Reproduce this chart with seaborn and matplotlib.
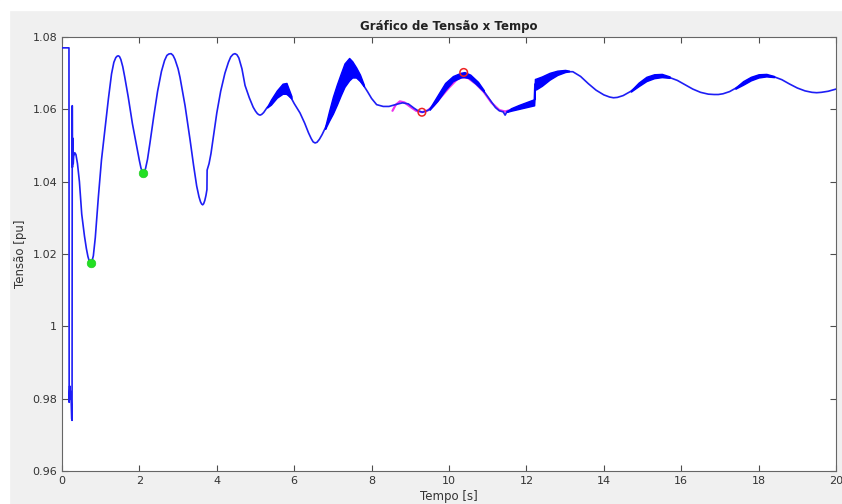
import numpy as np
import pandas as pd
import matplotlib
matplotlib.use("Agg")
import matplotlib.pyplot as plt
from matplotlib.patches import Rectangle
import seaborn as sns

# ---- data ----
t_main = [0.0, 0.18, 0.185, 0.20, 0.215, 0.23, 0.25, 0.26, 0.265, 0.27, 0.28, 0.29, 0.30, 0.33, 0.36,
          0.40, 0.45, 0.51, 0.58, 0.63, 0.67, 0.705, 0.74, 0.775, 0.81, 0.86, 0.90, 0.94, 1.02, 1.11,
          1.20, 1.28, 1.34, 1.39, 1.425, 1.455, 1.485, 1.52, 1.57, 1.62, 1.71, 1.82, 1.93, 2.00, 2.04,
          2.07, 2.10, 2.13, 2.16, 2.21, 2.27, 2.37, 2.47, 2.57, 2.65, 2.71, 2.76, 2.82, 2.87, 2.92,
          3.00, 3.05, 3.18, 3.31, 3.40, 3.48, 3.54, 3.58, 3.61, 3.635, 3.66, 3.69, 3.72, 3.745, 3.75,
          3.80, 3.85, 3.92, 4.00, 4.10, 4.21, 4.30, 4.36, 4.42, 4.47, 4.52, 4.57, 4.65, 4.73, 4.84,
          4.94, 5.00, 5.05, 5.09, 5.12, 5.16, 5.21, 5.30, 5.40, 5.55, 5.70, 5.85, 5.93, 6.00, 6.15,
          6.27, 6.37, 6.44, 6.49, 6.54, 6.59, 6.65, 6.72, 6.80, 6.90, 7.00, 7.10, 7.20, 7.30, 7.40,
          7.50, 7.60, 7.70, 7.80, 7.90, 8.00, 8.13, 8.30, 8.45, 8.65, 8.80, 8.95, 9.10, 9.20, 9.32,
          9.45, 9.50, 9.70, 9.90, 10.10, 10.30, 10.50, 10.70, 10.90, 11.00, 11.10, 11.20, 11.30, 11.40,
          11.45, 11.50, 11.60, 11.80, 12.00, 12.20, 12.22, 12.25, 12.40, 12.60, 12.80, 13.00, 13.20,
          13.40, 13.60, 13.80, 14.00, 14.15, 14.25, 14.35, 14.50, 14.65, 14.70, 14.90, 15.10, 15.30,
          15.50, 15.70, 15.90, 16.10, 16.30, 16.50, 16.70, 16.85, 16.96, 17.08, 17.25, 17.40, 17.60,
          17.80, 18.00, 18.20, 18.40, 18.60, 18.80, 19.00, 19.20, 19.38, 19.50, 19.62, 19.80, 20.00]
v_main = [1.077, 1.077, 0.979, 0.9835, 0.980, 0.982, 0.9745, 0.974, 1.061, 1.044, 1.052, 1.045, 1.047, 1.048, 1.0475,
          1.045, 1.040, 1.031, 1.025, 1.0215, 1.0193, 1.0180, 1.0175, 1.0180, 1.0195, 1.0245, 1.0300, 1.0358, 1.0460, 1.0545,
          1.0630, 1.0698, 1.0730, 1.0743, 1.0747, 1.0748, 1.0746, 1.0738, 1.0718, 1.0690, 1.0635, 1.0560, 1.0497, 1.0458, 1.0438,
          1.0428, 1.0424, 1.0427, 1.0437, 1.0462, 1.0505, 1.0580, 1.0650, 1.0705, 1.0735, 1.0749, 1.0753, 1.0754, 1.0749, 1.0738,
          1.0712, 1.0688, 1.0610, 1.0515, 1.0445, 1.0388, 1.0358, 1.0344, 1.0338, 1.0336, 1.0339, 1.0348, 1.0362, 1.0378, 1.0432,
          1.0450, 1.0478, 1.0530, 1.0590, 1.0650, 1.0700, 1.0730, 1.0745, 1.0752, 1.0754, 1.0751, 1.0742, 1.0712, 1.0666, 1.0632,
          1.0606, 1.0595, 1.0588, 1.0585, 1.0584, 1.0586, 1.0591, 1.0605, 1.0615, 1.0635, 1.0645, 1.0640, 1.0630, 1.0616, 1.0590,
          1.0562, 1.0535, 1.0519, 1.0510, 1.0507, 1.0509, 1.0517, 1.0530, 1.0548, 1.0570, 1.0590, 1.0615, 1.0640, 1.0665, 1.0680,
          1.0690, 1.0690, 1.0680, 1.0665, 1.0648, 1.0630, 1.0613, 1.0608, 1.0608, 1.0614, 1.0618, 1.0615, 1.0603, 1.0596, 1.0592,
          1.0597, 1.0600, 1.0625, 1.0655, 1.0680, 1.0690, 1.0688, 1.0670, 1.0650, 1.0635, 1.0620, 1.0605, 1.0596, 1.0593,
          1.0584, 1.0594, 1.0597, 1.0603, 1.0608, 1.0613, 1.0670, 1.0660, 1.0667, 1.0684, 1.0697, 1.0704, 1.0704,
          1.0691, 1.0671, 1.0653, 1.0640, 1.0634, 1.0632, 1.0633, 1.0638, 1.0647, 1.0650, 1.0666, 1.0680, 1.0688,
          1.0690, 1.0688, 1.0680, 1.0668, 1.0656, 1.0647, 1.0642, 1.0641, 1.0641, 1.0643, 1.0649, 1.0658, 1.0670,
          1.0682, 1.0689, 1.0692, 1.0690, 1.0682, 1.0670, 1.0659, 1.0651, 1.0647, 1.0646, 1.0647, 1.0650, 1.0656]

# ripple envelopes (dense high-frequency oscillation bands)
rip1_t = [5.30, 5.40, 5.55, 5.70, 5.80, 5.93]
rip1_lo = [1.0605, 1.0613, 1.0632, 1.0643, 1.0643, 1.0630]
rip1_hi = [1.0607, 1.0627, 1.0652, 1.0671, 1.0673, 1.0636]

rip2_t = [6.80, 6.90, 7.00, 7.10, 7.20, 7.30, 7.42, 7.50, 7.60, 7.70, 7.80]
rip2_lo = [1.0546, 1.0568, 1.0588, 1.0612, 1.0638, 1.0662, 1.0680, 1.0688, 1.0688, 1.0678, 1.0664]
rip2_hi = [1.0552, 1.0595, 1.0635, 1.0668, 1.0698, 1.0727, 1.0742, 1.0733, 1.0716, 1.0696, 1.0668]

rip3_t = [9.50, 9.70, 9.90, 10.10, 10.30, 10.40, 10.55, 10.75, 10.90]
rip3_lo = [1.0599, 1.0623, 1.0653, 1.0678, 1.0688, 1.0689, 1.0686, 1.0666, 1.0649]
rip3_hi = [1.0603, 1.0638, 1.0673, 1.0692, 1.0701, 1.0703, 1.0696, 1.0676, 1.0653]

rip4_t = [11.50, 11.60, 11.80, 12.00, 12.20, 12.22, 12.25, 12.40, 12.60, 12.80, 13.00, 13.10]
rip4_lo = [1.0593, 1.0596, 1.0601, 1.0606, 1.0611, 1.0655, 1.0655, 1.0665, 1.0682, 1.0695, 1.0703, 1.0705]
rip4_hi = [1.0595, 1.0603, 1.0612, 1.0620, 1.0628, 1.0684, 1.0685, 1.0691, 1.0701, 1.0707, 1.0709, 1.0707]

rip5_t = [14.70, 14.90, 15.10, 15.30, 15.50, 15.70]
rip5_lo = [1.0649, 1.0664, 1.0678, 1.0686, 1.0689, 1.0687]
rip5_hi = [1.0652, 1.0674, 1.0690, 1.0697, 1.0698, 1.0691]

rip6_t = [17.40, 17.60, 17.80, 18.00, 18.20, 18.40]
rip6_lo = [1.0657, 1.0668, 1.0680, 1.0688, 1.0691, 1.0689]
rip6_hi = [1.0660, 1.0678, 1.0690, 1.0697, 1.0698, 1.0692]

# fitted magenta curve
t_fit = [8.54, 8.62, 8.73, 8.85, 9.00, 9.15, 9.30, 9.45, 9.60, 9.80, 10.00, 10.20, 10.35,
         10.50, 10.70, 10.90, 11.10, 11.30, 11.45, 11.55]
v_fit = [1.0596, 1.0612, 1.0622, 1.0619, 1.0607, 1.0596, 1.0592, 1.0597, 1.0610, 1.0635, 1.0660,
         1.0682, 1.0690, 1.0686, 1.0670, 1.0648, 1.0618, 1.0598, 1.0594, 1.0597]

green_t = [0.74, 2.10]
green_v = [1.0175, 1.0425]
red_t = [9.30, 10.38]
red_v = [1.0592, 1.0702]

xticks = [0, 2, 4, 6, 8, 10, 12, 14, 16, 18, 20]
yticks = [0.96, 0.98, 1.00, 1.02, 1.04, 1.06, 1.08]
ytick_labels = ["0.96", "0.98", "1", "1.02", "1.04", "1.06", "1.08"]

# ---- plot ----
sns.set_theme(style="ticks")
plt.rcParams['font.family'] = ['DejaVu Sans']

fig = plt.figure(figsize=(8.42, 5.04), dpi=100, facecolor="#f0f0f0")
fig.patches.append(Rectangle((0, 0), 9 / 842, 1, transform=fig.transFigure, color="white", zorder=0))
fig.patches.append(Rectangle((0, 1 - 10 / 504), 1, 10 / 504, transform=fig.transFigure, color="white", zorder=0))
ax = fig.add_axes([62 / 842, 33 / 504, (836 - 62) / 842, (471 - 37) / 504])
ax.set_facecolor("white")

blue = "#1e1ef5"
df_fit = pd.DataFrame({"t": t_fit, "v": v_fit})
sns.lineplot(data=df_fit, x="t", y="v", ax=ax, color="#ee33ee", lw=1.6, sort=False, estimator=None, zorder=2)

df = pd.DataFrame({"t": t_main, "v": v_main})
sns.lineplot(data=df, x="t", y="v", ax=ax, color=blue, lw=1.2, sort=False, estimator=None, zorder=3)

for tt, lo, hi in [(rip1_t, rip1_lo, rip1_hi), (rip2_t, rip2_lo, rip2_hi), (rip3_t, rip3_lo, rip3_hi),
                   (rip4_t, rip4_lo, rip4_hi), (rip5_t, rip5_lo, rip5_hi), (rip6_t, rip6_lo, rip6_hi)]:
    ax.fill_between(tt, lo, hi, color="#0000ff", lw=1.0, edgecolor="#0000ff", zorder=3)

sns.scatterplot(x=green_t, y=green_v, ax=ax, color="#22e022", s=38, edgecolor="#22cc22", zorder=4)
ax.scatter(red_t, red_v, s=30, facecolors="none", edgecolors="#ee2222", lw=1.1, zorder=5)

ax.set_xlim(0, 20)
ax.set_ylim(0.96, 1.08)
ax.set_xticks(xticks)
ax.set_xticklabels([str(x) for x in xticks])
ax.set_yticks(yticks)
ax.set_yticklabels(ytick_labels)
ax.tick_params(direction="in", top=True, right=True, length=4, width=0.8,
               colors="#4d4d4d", labelsize=8, labelcolor="#333333")
for s in ax.spines.values():
    s.set_color("#666666")
    s.set_linewidth(0.8)
    s.set_visible(True)

ax.set_title("Gráfico de Tensão x Tempo", fontsize=8.5, fontweight="bold", color="#222222", pad=5)
ax.set_xlabel("Tempo [s]", fontsize=8.5, color="#333333", labelpad=3)
ax.set_ylabel("Tensão [pu]", fontsize=8.5, color="#333333", labelpad=4)

fig.savefig("out.png", dpi=100, facecolor=fig.get_facecolor())
